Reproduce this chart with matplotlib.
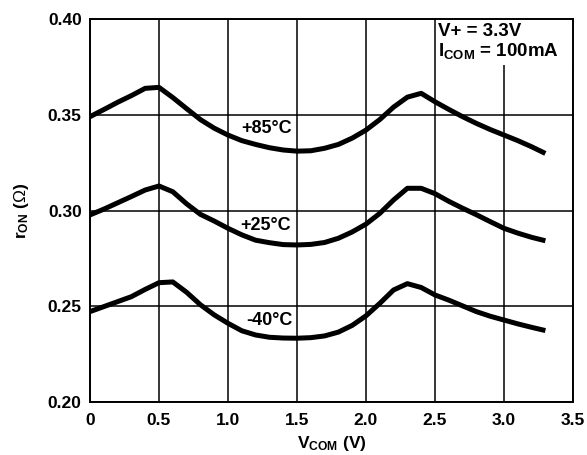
import numpy as np
import matplotlib
matplotlib.use("Agg")
import matplotlib.pyplot as plt
from matplotlib.patches import Rectangle

plt.rcParams['font.family'] = ['Liberation Sans', 'DejaVu Sans']
plt.rcParams['mathtext.fontset'] = 'custom'
plt.rcParams['mathtext.rm'] = 'Liberation Sans'
plt.rcParams['mathtext.bf'] = 'Liberation Sans:bold'

# V_COM sample points (V)
vcom = [0.0, 0.1, 0.2, 0.3, 0.4, 0.5, 0.6, 0.7, 0.8, 0.9, 1.0, 1.1,
        1.2, 1.3, 1.4, 1.5, 1.6, 1.7, 1.8, 1.9, 2.0, 2.1, 2.2, 2.3,
        2.4, 2.5, 2.6, 2.7, 2.8, 2.9, 3.0, 3.1, 3.2, 3.3]

# r_ON (ohm)
ron_85 = [0.3490, 0.3527, 0.3565, 0.3600, 0.3638, 0.3643, 0.3590, 0.3532,
          0.3475, 0.3430, 0.3394, 0.3365, 0.3345, 0.3328, 0.3316, 0.3310,
          0.3312, 0.3325, 0.3345, 0.3378, 0.3420, 0.3475, 0.3540, 0.3592,
          0.3612, 0.3568, 0.3528, 0.3490, 0.3455, 0.3423, 0.3394, 0.3365,
          0.3333, 0.3298]
ron_25 = [0.2977, 0.3007, 0.3040, 0.3073, 0.3107, 0.3128, 0.3098, 0.3035,
          0.2980, 0.2945, 0.2907, 0.2873, 0.2845, 0.2832, 0.2822, 0.2820,
          0.2823, 0.2833, 0.2855, 0.2888, 0.2929, 0.2985, 0.3055, 0.3116,
          0.3116, 0.3088, 0.3048, 0.3012, 0.2978, 0.2942, 0.2907, 0.2882,
          0.2860, 0.2842]
ron_m40 = [0.2472, 0.2498, 0.2524, 0.2550, 0.2588, 0.2623, 0.2627, 0.2573,
           0.2508, 0.2455, 0.2411, 0.2372, 0.2350, 0.2338, 0.2334, 0.2333,
           0.2336, 0.2345, 0.2365, 0.2400, 0.2450, 0.2515, 0.2585, 0.2618,
           0.2598, 0.2559, 0.2532, 0.2502, 0.2472, 0.2448, 0.2428, 0.2408,
           0.2390, 0.2373]

curve_labels = ["+85°C", "+25°C", "-40°C"]
label_pos = [(1.28, 0.3430), (1.27, 0.2924), (1.30, 0.2428)]

x_ticks = [0, 0.5, 1.0, 1.5, 2.0, 2.5, 3.0, 3.5]
x_ticklabels = ["0", "0.5", "1.0", "1.5", "2.0", "2.5", "3.0", "3.5"]
y_ticks = [0.20, 0.25, 0.30, 0.35, 0.40]
y_ticklabels = ["0.20", "0.25", "0.30", "0.35", "0.40"]

fs = 12.5

fig = plt.figure(figsize=(5.87, 4.55), dpi=100)
ax = fig.add_axes((0.1533, 0.1165, 0.8228, 0.8417))

# curves
for ron in (ron_85, ron_25, ron_m40):
    ax.plot(vcom, ron, color='black', linewidth=3.6, solid_capstyle='butt',
            solid_joinstyle='round', zorder=3)

# temperature labels
for txt, (lx, ly) in zip(curve_labels, label_pos):
    ax.text(lx, ly, txt, ha='center', va='center', fontsize=13,
            fontweight='bold', zorder=4)

# axes range and grid
ax.set_xlim(0, 3.5)
ax.set_ylim(0.20, 0.40)
ax.set_xticks(x_ticks)
ax.set_xticklabels(x_ticklabels, fontsize=fs, fontweight='bold')
ax.set_yticks(y_ticks)
ax.set_yticklabels(y_ticklabels, fontsize=fs, fontweight='bold')
ax.tick_params(axis='x', length=0, pad=8)
ax.tick_params(axis='y', length=0, pad=6)
ax.grid(True, color='black', linewidth=1.1)
ax.set_axisbelow(True)
for sp in ax.spines.values():
    sp.set_linewidth(1.4)

ax.set_xlabel(r'$\mathbf{V_{COM}}$ (V)', fontsize=fs, fontweight='bold', labelpad=4)
ax.set_ylabel(r'$\mathbf{r_{ON}}$ ($\Omega$)', fontsize=fs, fontweight='bold',
              labelpad=12)

# condition box: white patch hides the grid behind the text
ax.add_patch(Rectangle((0.719, 0.88), 0.281, 0.12, transform=ax.transAxes,
                       facecolor='white', edgecolor='none', zorder=2.5))
ax.text(0.720, 0.99, 'V+ = 3.3V\n' + r'$\mathbf{I_{COM}}$ = 100mA',
        transform=ax.transAxes, ha='left', va='top', fontsize=13.5,
        fontweight='bold', linespacing=1.05, zorder=5)

fig.savefig('out.png', dpi=100)
plt.close(fig)
